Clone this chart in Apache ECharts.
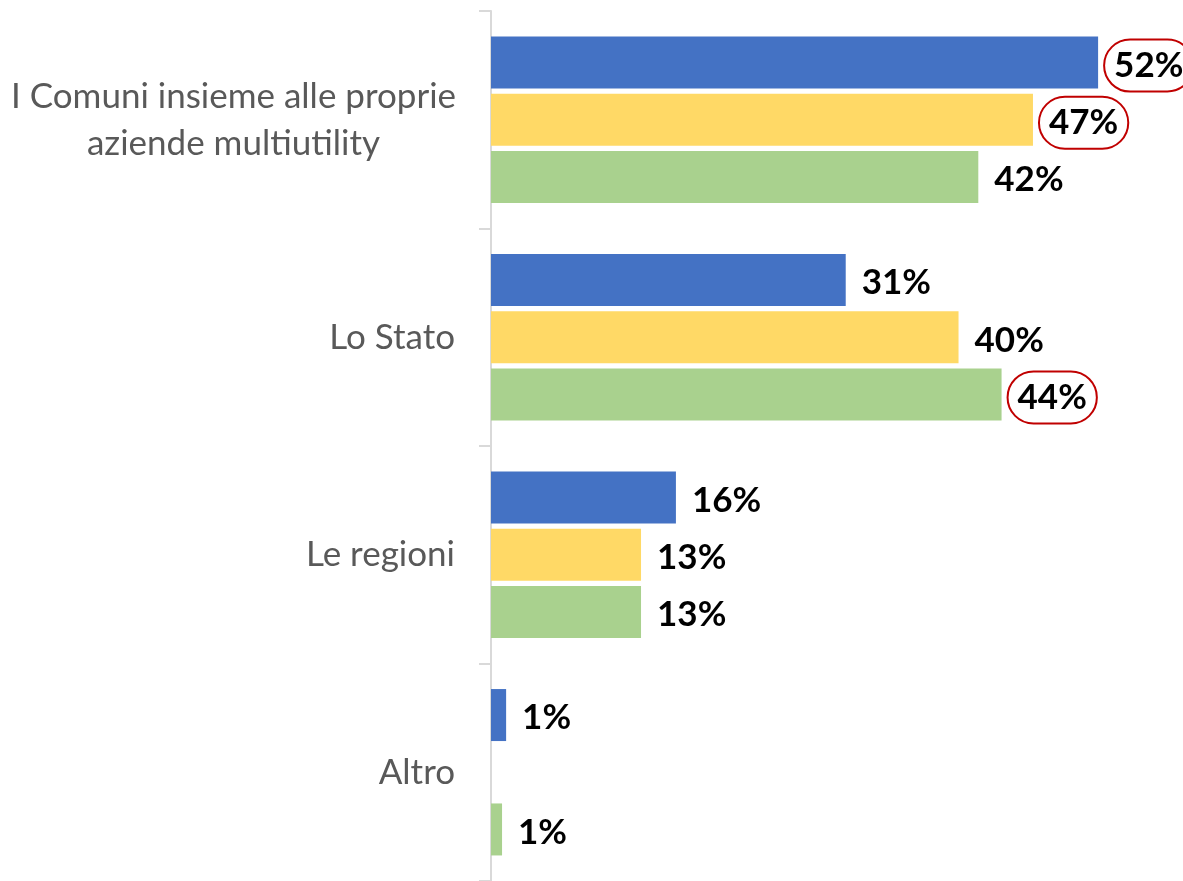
<!DOCTYPE html>
<html>
<head>
<meta charset="utf-8">
<script src="https://cdn.jsdelivr.net/npm/echarts@6/dist/echarts.min.js"></script>
<style>html,body{margin:0;padding:0;background:#fff}#c{width:1183px;height:881px}</style>
</head>
<body>
<div id="c"></div>
<script>
const categories = ['I Comuni insieme alle proprie\naziende multiutility', 'Lo Stato', 'Le regioni', 'Altro'];
const seriesNames = ['Serie 1', 'Serie 2', 'Serie 3'];
const blueValues = [52.2, 30.5, 15.9, 1.3];
const yellowValues = [46.6, 40.2, 12.9, null];
const greenValues = [41.9, 43.9, 12.9, 0.95];
const blueCircled = [true, false, false, false];
const yellowCircled = [true, false, false, false];
const greenCircled = [false, true, false, false];
const colors = ['#4472C4', '#FFD966', '#A9D18E'];

const FONT = 'Lato, "Noto Sans", sans-serif';
const labelBase = {
  show: true, position: 'right', distance: 16, offset: [0, 3],
  fontFamily: FONT, fontWeight: 'bold', fontSize: 35, color: '#000',
  formatter: p => Math.round(p.value) + '%'
};
function buildData(vals, circled) {
  return vals.map((v, i) => {
    if (v === null) return null;
    if (!circled[i]) return v;
    return {
      value: v,
      label: {
        borderColor: '#C00000', borderWidth: 2, borderRadius: 40,
        padding: [10, 10, 7, 10], distance: 6
      }
    };
  });
}
const allValues = [blueValues, yellowValues, greenValues];
const allCircled = [blueCircled, yellowCircled, greenCircled];

const chart = echarts.init(document.getElementById('c'));
chart.setOption({
  animation: false,
  grid: { left: 491, top: 11, bottom: 0, right: 0, containLabel: false },
  xAxis: { type: 'value', min: 0, max: 59.5, show: false },
  yAxis: {
    type: 'category', data: categories, inverse: true,
    axisLine: { lineStyle: { color: '#D9D9D9', width: 2 } },
    axisTick: { show: true, length: 12, lineStyle: { color: '#D9D9D9', width: 2 } },
    axisLabel: {
      margin: 36, fontFamily: FONT, fontSize: 35, color: '#595959', lineHeight: 47,
      formatter: v => v.indexOf('\n') >= 0 ? v.split('\n').map(s => '{c|' + s + '}').join('\n') : v,
      rich: { c: { width: 443, align: 'center', fontFamily: FONT, fontSize: 35, color: '#595959', lineHeight: 47 } }
    }
  },
  series: allValues.map((vals, k) => ({
    name: seriesNames[k], type: 'bar', barWidth: 52, barGap: '10%',
    itemStyle: { color: colors[k] },
    label: labelBase,
    data: buildData(vals, allCircled[k])
  }))
});
</script>
</body>
</html>
